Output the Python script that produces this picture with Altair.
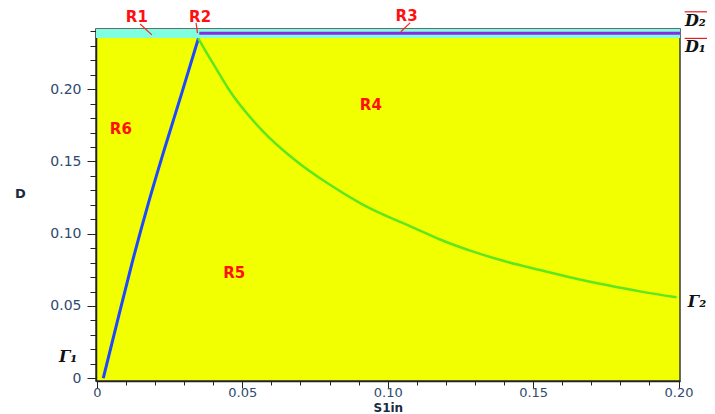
import altair as alt
import pandas as pd

# ---- data ----
gamma1_s = [0.0022, 0.0070, 0.0120, 0.0177, 0.0230, 0.0290, 0.0349]
gamma1_d = [0.0, 0.0390, 0.0790, 0.1210, 0.1570, 0.1960, 0.2350]

gamma2_s = [0.0349, 0.0372, 0.0407, 0.0452, 0.0567, 0.0681, 0.0796, 0.0911, 0.1094,
            0.1180, 0.1294, 0.1409, 0.1523, 0.1638, 0.1753, 0.1867, 0.1993]
gamma2_d = [0.2350, 0.2270, 0.2152, 0.2003, 0.1717, 0.1510, 0.1345, 0.1205, 0.1037,
            0.0960, 0.0876, 0.0806, 0.0749, 0.0694, 0.0645, 0.0601, 0.0560]

x_domain = [-0.0003, 0.2005]
y_domain = [-0.0019, 0.2416]
d1_level = 0.2353
d2_level = 0.2386
r3_start = 0.0352

region_labels = ["R1", "R2", "R3", "R4", "R5", "R6"]
region_x = [0.01375, 0.0355, 0.1065, 0.0942, 0.0472, 0.00825]
region_y = [0.2497, 0.2499, 0.2506, 0.1890, 0.0730, 0.1726]

leader_x = [0.01488, 0.0341, 0.1077]
leader_x2 = [0.0189, 0.0346, 0.1045]
leader_y = [0.2451, 0.2458, 0.2458]
leader_y2 = [0.2375, 0.2388, 0.2397]

curve_labels = ["D\u2082", "D\u2081", "\u0393\u2081", "\u0393\u2082"]
curve_lab_x = [0.2022, 0.2022, -0.0099, 0.2032]
curve_lab_y = [0.2471, 0.2291, 0.0147, 0.0530]
curve_lab_align = ["left", "left", "center", "left"]

overline_x = [0.2021, 0.2021]
overline_x2 = [0.2098, 0.2098]
overline_y = [0.2535, 0.2351]

x_ticks = [round(i * 0.01, 2) for i in range(0, 21)]
y_ticks = [round(i * 0.01, 2) for i in range(0, 25)]

major = "abs(round(datum.value*20) - datum.value*20) < 0.001"
label_expr = f"{major} ? (datum.value == 0 ? '0' : format(datum.value, '.2f')) : ''"

tick_col = "#2e4a6e"
xs = alt.Scale(domain=x_domain, nice=False, zero=False)
ys = alt.Scale(domain=y_domain, nice=False, zero=False)

x_axis = alt.Axis(values=x_ticks, tickCount=200, labelExpr=label_expr, grid=False,
                  labelOverlap=False,
                  tickSize={"condition": {"test": major, "value": 7}, "value": 4},
                  tickColor="#222", domainColor="#222", domainWidth=1.5,
                  labelColor=tick_col, labelFont="DejaVu Sans", labelFontSize=13,
                  labelPadding=-2, labelFlush=False,
                  title="S1in", titleFont="DejaVu Sans", titleFontSize=12,
                  titleFontWeight="bold", titleColor="#1a2a40",
                  titleAnchor="start", titleAlign="left", titleBaseline="middle",
                  titleX=277, titleY=26)
y_axis = alt.Axis(values=y_ticks, tickCount=200, labelExpr=label_expr, grid=False,
                  labelOverlap=False,
                  tickSize={"condition": {"test": major, "value": 9}, "value": 6},
                  tickColor="#222", domainColor="#222", domainWidth=1.5,
                  labelColor=tick_col, labelFont="DejaVu Sans", labelFontSize=14,
                  labelPadding=6, labelFlush=False,
                  title="D", titleFont="DejaVu Sans", titleFontSize=13,
                  titleFontWeight="bold", titleColor="#1a2a40", titleAngle=0,
                  titleAlign="center", titleBaseline="middle",
                  titleX=-76, titleY=164)

band = pd.DataFrame({"x": [x_domain[0]], "x2": [x_domain[1]],
                     "y": [d1_level], "y2": [y_domain[1]]})
cyan = alt.Chart(band).mark_rect(color="#80ffe0").encode(
    x=alt.X("x:Q", scale=xs, axis=x_axis), x2="x2:Q",
    y=alt.Y("y:Q", scale=ys, axis=y_axis), y2="y2:Q")

r3 = pd.DataFrame({"x": [r3_start], "x2": [x_domain[1]], "y": [d2_level]})
purple = alt.Chart(r3).mark_rule(color="#8a2be2", strokeWidth=3).encode(
    x=alt.X("x:Q", scale=xs), x2="x2:Q", y=alt.Y("y:Q", scale=ys))

g1 = pd.DataFrame({"s": gamma1_s, "d": gamma1_d, "o": range(len(gamma1_s))})
line1 = alt.Chart(g1).mark_line(color="#1e48ff", strokeWidth=3,
                                interpolate="monotone").encode(
    x=alt.X("s:Q", scale=xs), y=alt.Y("d:Q", scale=ys), order="o:Q")

g2 = pd.DataFrame({"s": gamma2_s, "d": gamma2_d, "o": range(len(gamma2_s))})
line2 = alt.Chart(g2).mark_line(color="#5fe61e", strokeWidth=2.5,
                                interpolate="monotone").encode(
    x=alt.X("s:Q", scale=xs), y=alt.Y("d:Q", scale=ys), order="o:Q")

lead = pd.DataFrame({"x": leader_x, "x2": leader_x2, "y": leader_y, "y2": leader_y2})
leaders = alt.Chart(lead).mark_rule(color="#ff2020", strokeWidth=1.2, clip=False).encode(
    x=alt.X("x:Q", scale=xs), x2="x2:Q", y=alt.Y("y:Q", scale=ys), y2="y2:Q")

reg = pd.DataFrame({"t": region_labels, "x": region_x, "y": region_y})
reg_text = alt.Chart(reg).mark_text(color="#ff1010", font="DejaVu Sans",
                                    fontWeight="bold", fontSize=15,
                                    baseline="middle", align="center",
                                    clip=False).encode(
    x=alt.X("x:Q", scale=xs), y=alt.Y("y:Q", scale=ys), text="t:N")

cl = pd.DataFrame({"t": curve_labels, "x": curve_lab_x, "y": curve_lab_y,
                   "a": curve_lab_align})
cl_left = alt.Chart(cl[cl.a == "left"]).mark_text(
    color="#111", font="DejaVu Serif", fontWeight="bold", fontStyle="italic",
    fontSize=16, baseline="middle", align="left", clip=False).encode(
    x=alt.X("x:Q", scale=xs), y=alt.Y("y:Q", scale=ys), text="t:N")
cl_center = alt.Chart(cl[cl.a == "center"]).mark_text(
    color="#111", font="DejaVu Serif", fontWeight="bold", fontStyle="italic",
    fontSize=16, baseline="middle", align="center", clip=False).encode(
    x=alt.X("x:Q", scale=xs), y=alt.Y("y:Q", scale=ys), text="t:N")

ov = pd.DataFrame({"x": overline_x, "x2": overline_x2, "y": overline_y})
overlines = alt.Chart(ov).mark_rule(color="#e02020", strokeWidth=1.2, clip=False).encode(
    x=alt.X("x:Q", scale=xs), x2="x2:Q", y=alt.Y("y:Q", scale=ys))

chart = alt.layer(cyan, purple, line1, line2, leaders, reg_text,
                  cl_left, cl_center, overlines).properties(
    width=584, height=352,
    autosize=alt.AutoSizeParams(type="none"),
    padding={"left": 88, "top": 21, "right": 27, "bottom": 33},
    background="white",
).configure_view(fill="#f2ff00", stroke="#3a3a3a", strokeWidth=1.5)

chart.save("out.html", embed_options={"renderer": "svg", "actions": False})
